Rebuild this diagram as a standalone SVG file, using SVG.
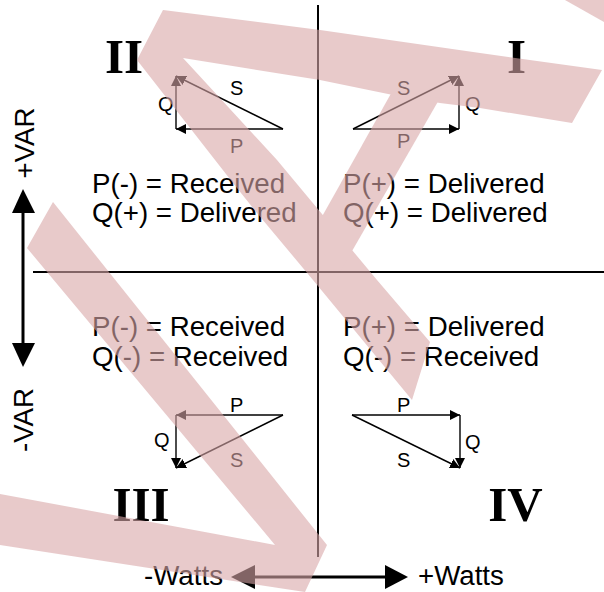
<svg xmlns="http://www.w3.org/2000/svg" width="604" height="592" viewBox="0 0 604 592">
<style>
.t{font-family:"Liberation Sans",Arial,sans-serif;font-size:27.7px;fill:#000}
.l{font-family:"Liberation Sans",Arial,sans-serif;font-size:20px;fill:#000}
.r{font-family:"Liberation Serif","Times New Roman",serif;font-weight:bold;font-size:49px;fill:#000}
.ax{stroke:#000;stroke-width:2;fill:none}
.v{stroke:#000;stroke-width:1.4;fill:none;marker-end:url(#ah)}
</style>
<defs>
<marker id="ah" viewBox="0 0 10 10" refX="10" refY="5" markerWidth="10" markerHeight="10" markerUnits="userSpaceOnUse" orient="auto"><path d="M0,0 L10,5 L0,10 z" fill="#000"/></marker>
</defs>
<rect width="604" height="592" fill="#fff"/>
<g id="connectors">
<line class="ax" x1="318" y1="5" x2="318" y2="557"/>
<line class="ax" x1="33" y1="272" x2="604" y2="272"/>
<line x1="23" y1="212" x2="23" y2="344" stroke="#000" stroke-width="3"/>
<polygon points="23,189 12,213 35,213" fill="#000"/>
<polygon points="23,367 12,343 35,343" fill="#000"/>
<line x1="254" y1="577" x2="386" y2="577" stroke="#000" stroke-width="3"/>
<polygon points="231,577 255,565 255,589" fill="#000"/>
<polygon points="408,577 385,565 385,589" fill="#000"/>
</g>
<g id="axis-labels">
<text class="t" transform="translate(34,143) rotate(-90)" text-anchor="middle">+VAR</text>
<text class="t" transform="translate(33,420) rotate(-90)" text-anchor="middle">-VAR</text>
<text class="t" x="223" y="585" text-anchor="end">-Watts</text>
<text class="t" x="418" y="585">+Watts</text>
</g>
<g id="quadrant-II">
<text class="r" x="124" y="73" text-anchor="middle">II</text>
<line class="v" x1="283" y1="129" x2="176" y2="129"/>
<line class="v" x1="176" y1="129" x2="176" y2="76"/>
<line class="v" x1="283" y1="129" x2="176" y2="76"/>
<text class="l" x="230" y="95">S</text>
<text class="l" x="158" y="111">Q</text>
<text class="l" x="230" y="153">P</text>
<text class="t" x="92" y="193">P(-) = Received</text>
<text class="t" x="92" y="222">Q(+) = Delivered</text>
</g>
<g id="quadrant-I">
<text class="r" x="516.5" y="73" text-anchor="middle">I</text>
<line class="v" x1="353" y1="129" x2="459" y2="129"/>
<line class="v" x1="459" y1="129" x2="459" y2="76"/>
<line class="v" x1="353" y1="129" x2="459" y2="76"/>
<text class="l" x="397" y="95">S</text>
<text class="l" x="465" y="111">Q</text>
<text class="l" x="397" y="148">P</text>
<text class="t" x="343" y="193">P(+) = Delivered</text>
<text class="t" x="343" y="222">Q(+) = Delivered</text>
</g>
<g id="quadrant-III">
<text class="r" x="141" y="521" text-anchor="middle">III</text>
<line class="v" x1="283" y1="415" x2="176" y2="415"/>
<line class="v" x1="176" y1="415" x2="176" y2="468"/>
<line class="v" x1="283" y1="415" x2="176" y2="468"/>
<text class="l" x="230" y="412">P</text>
<text class="l" x="154" y="447">Q</text>
<text class="l" x="230" y="467">S</text>
<text class="t" x="92" y="336">P(-) = Received</text>
<text class="t" x="92" y="366">Q(-) = Received</text>
</g>
<g id="quadrant-IV">
<text class="r" x="515.5" y="521" text-anchor="middle">IV</text>
<line class="v" x1="352" y1="415" x2="460" y2="415"/>
<line class="v" x1="460" y1="415" x2="460" y2="468"/>
<line class="v" x1="352" y1="415" x2="460" y2="468"/>
<text class="l" x="397" y="412">P</text>
<text class="l" x="465" y="449">Q</text>
<text class="l" x="397" y="467">S</text>
<text class="t" x="343" y="336">P(+) = Delivered</text>
<text class="t" x="343" y="366">Q(-) = Received</text>
</g>
<g id="overlay" fill="#d9a7a8" opacity="0.6">
<polygon points="163,10 320,30 480,53 602,70 572,123 480,108 440,103 393,95 320,80 183,58 277,160 377,280 430,342 412,400 313,280 257,213 233,183 137,60"/>
<polygon points="393,90 440,98 340,272 310,238"/>
<polygon points="53,202 327,545 305,592 0,545 0,494 275,545 27,248"/>
<polygon points="565,0 604,0 604,22"/>
</g>
</svg>
